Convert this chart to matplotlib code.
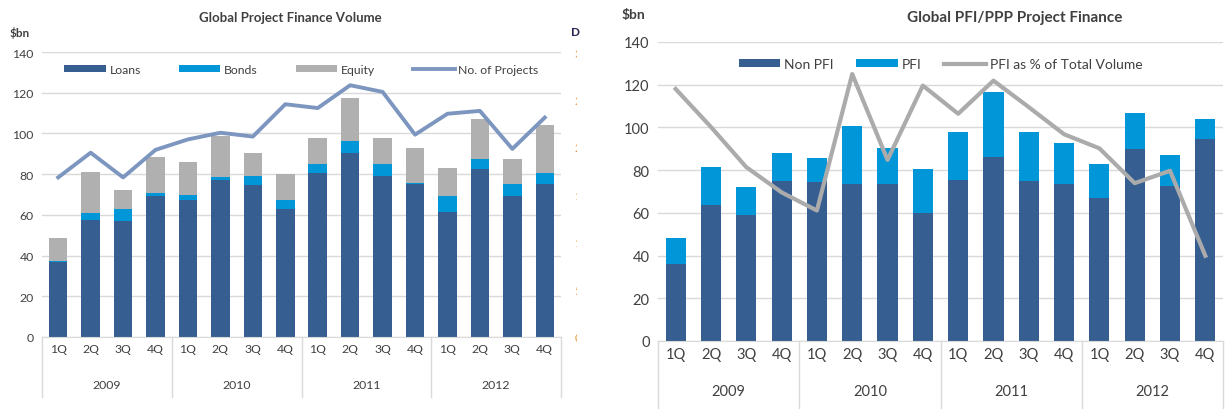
import matplotlib
matplotlib.use("Agg")
import matplotlib.pyplot as plt
import matplotlib.transforms as mtransforms
import numpy as np

plt.rcParams['font.family'] = ['Lato', 'DejaVu Sans']
plt.rcParams['text.color'] = '#404040'

quarters = ['1Q', '2Q', '3Q', '4Q'] * 4
years = ['2009', '2010', '2011', '2012']

# left chart: Global Project Finance Volume ($bn)
loans = [36.7, 57.7, 56.9, 69.2, 67.5, 77.0, 74.6, 63.0,
         80.7, 90.5, 79.0, 75.2, 61.3, 82.6, 69.2, 75.4]
bonds = [0.8, 3.3, 6.1, 1.6, 2.3, 1.7, 4.7, 4.2,
         4.2, 5.6, 5.9, 0.4, 7.9, 4.9, 6.0, 5.3]
equity = [10.9, 20.1, 9.0, 17.4, 16.1, 20.0, 10.9, 13.1,
          13.0, 21.1, 13.0, 17.4, 13.9, 19.4, 12.0, 23.4]
no_projects = [168, 194, 168, 197, 208, 215, 211, 245,
               241, 265, 258, 213, 235, 238, 198, 231]

# right chart: Global PFI/PPP Project Finance ($bn)
non_pfi = [36.0, 63.6, 59.2, 74.7, 74.4, 73.6, 73.6, 59.7,
           75.5, 86.3, 74.7, 73.5, 67.0, 89.9, 72.4, 94.8]
pfi = [12.4, 17.8, 12.7, 13.2, 11.4, 26.9, 16.6, 20.7,
       22.4, 30.5, 23.1, 19.3, 16.1, 17.0, 14.7, 9.0]
pfi_share = [118.0, 100.2, 81.4, 69.6, 61.1, 125.0, 84.8, 119.6,
             106.4, 121.9, 109.5, 96.8, 90.2, 73.9, 79.7, 39.9]

C_DARK = '#365E91'
C_BLUE = '#0096D8'
C_GREY = '#B0B0B0'
C_LINE = '#7D96C0'
C_GRID = '#D9D9D9'

W, H = 1225, 410
fig = plt.figure(figsize=(W / 100, H / 100), dpi=100)


def add_axes_px(x0, x1, y0, y1):
    # y0 = pixel row of value 0, y1 = pixel row of top
    return fig.add_axes([x0 / W, 1 - y0 / H, (x1 - x0) / W, (y0 - y1) / H])


def style_axes(ax, fs):
    ax.set_xlim(-0.5, 15.5)
    ax.set_ylim(0, 140)
    ax.set_yticks(np.arange(0, 141, 20))
    ax.grid(axis='y', color=C_GRID, lw=1)
    ax.set_axisbelow(True)
    for s in ['top', 'right', 'left']:
        ax.spines[s].set_visible(False)
    ax.spines['bottom'].set_color(C_GRID)
    ax.set_xticks([])
    ax.tick_params(axis='y', length=0, labelsize=fs, labelcolor='#404040', pad=6)


def category_axis(ax, fs, q_y, y_y, sep_len):
    tr = mtransforms.blended_transform_factory(ax.transData, ax.transAxes)
    x = np.arange(16)
    for i, q in enumerate(quarters):
        ax.text(x[i], q_y, q, transform=tr, ha='center', va='center', fontsize=fs)
    for j, yr in enumerate(years):
        ax.text(4 * j + 1.5, y_y, yr, transform=tr, ha='center', va='center', fontsize=fs)
    for b in [-0.5, 3.5, 7.5, 11.5, 15.5]:
        ax.plot([b, b], [0, -sep_len], transform=tr, color=C_GRID, lw=1, clip_on=False)


x = np.arange(16)
bw = 0.57

# ---- left chart
ax1 = add_axes_px(42, 561, 338, 53)
style_axes(ax1, 8.8)
bot2 = np.array(loans) + np.array(bonds)
ax1.bar(x, loans, bw, color=C_DARK, label='Loans')
ax1.bar(x, bonds, bw, bottom=loans, color=C_BLUE, label='Bonds')
ax1.bar(x, equity, bw, bottom=bot2, color=C_GREY, label='Equity')
ax1t = ax1.twinx()
ax1t.set_ylim(0, 300)
ax1t.set_yticks(np.arange(0, 301, 50))
ax1t.plot(x, no_projects, color=C_LINE, lw=2.8, label='No. of Projects')
for s in ax1t.spines.values():
    s.set_visible(False)
ax1t.tick_params(axis='y', length=0, labelsize=8.5, labelcolor='#E8973A', pad=9.5)
# the secondary axis labels are cut off at the picture edge
clip = mtransforms.TransformedBbox(mtransforms.Bbox([[0, 0], [576.5 / W, 1]]), fig.transFigure)
for lab in ax1t.get_yticklabels():
    lab.set_clip_on(True)
    lab.set_clip_box(clip)
category_axis(ax1, 8.8, -0.042, -0.165, 0.21)

h1, l1 = ax1.get_legend_handles_labels()
h2, l2 = ax1t.get_legend_handles_labels()
ax1t.legend(h1 + h2, l1 + l2, loc='center', bbox_to_anchor=(0.5, 0.94), ncol=4,
            frameon=False, fontsize=8.8, handlelength=3.4, handleheight=0.55,
            columnspacing=3.1, handletextpad=0.3)

fig.text(290 / W, 1 - 18 / H, 'Global Project Finance Volume', ha='center', va='center',
         fontsize=9.5, fontweight='bold')
fig.text(10 / W, 1 - 33 / H, '$bn', ha='left', va='center', fontsize=8.5, fontweight='bold')
fig.text(571 / W, 1 - 33 / H, 'D', ha='left', va='center', fontsize=8.5,
         fontweight='bold', color='#2B1F4F')

# ---- right chart
ax2 = add_axes_px(658, 1223, 342, 43)
style_axes(ax2, 10.5)
b_non = ax2.bar(x, non_pfi, bw, color=C_DARK, label='Non PFI')
b_pfi = ax2.bar(x, pfi, bw, bottom=non_pfi, color=C_BLUE, label='PFI')
ln, = ax2.plot(x, pfi_share, color='#ABABAB', lw=3, label='PFI as % of Total Volume')
category_axis(ax2, 10.5, -0.043, -0.167, 0.23)
ax2.legend([b_non, b_pfi, ln], ['Non PFI', 'PFI', 'PFI as % of Total Volume'],
           loc='center', bbox_to_anchor=(0.5, 0.926), ncol=3, frameon=False,
           fontsize=10, handlelength=3.0, handleheight=0.55,
           columnspacing=1.6, handletextpad=0.3)

fig.text(1015 / W, 1 - 18 / H, 'Global PFI/PPP Project Finance', ha='center', va='center',
         fontsize=11, fontweight='bold')
fig.text(622 / W, 1 - 15 / H, '$bn', ha='left', va='center', fontsize=10, fontweight='bold')

fig.savefig('out.png', dpi=100)
